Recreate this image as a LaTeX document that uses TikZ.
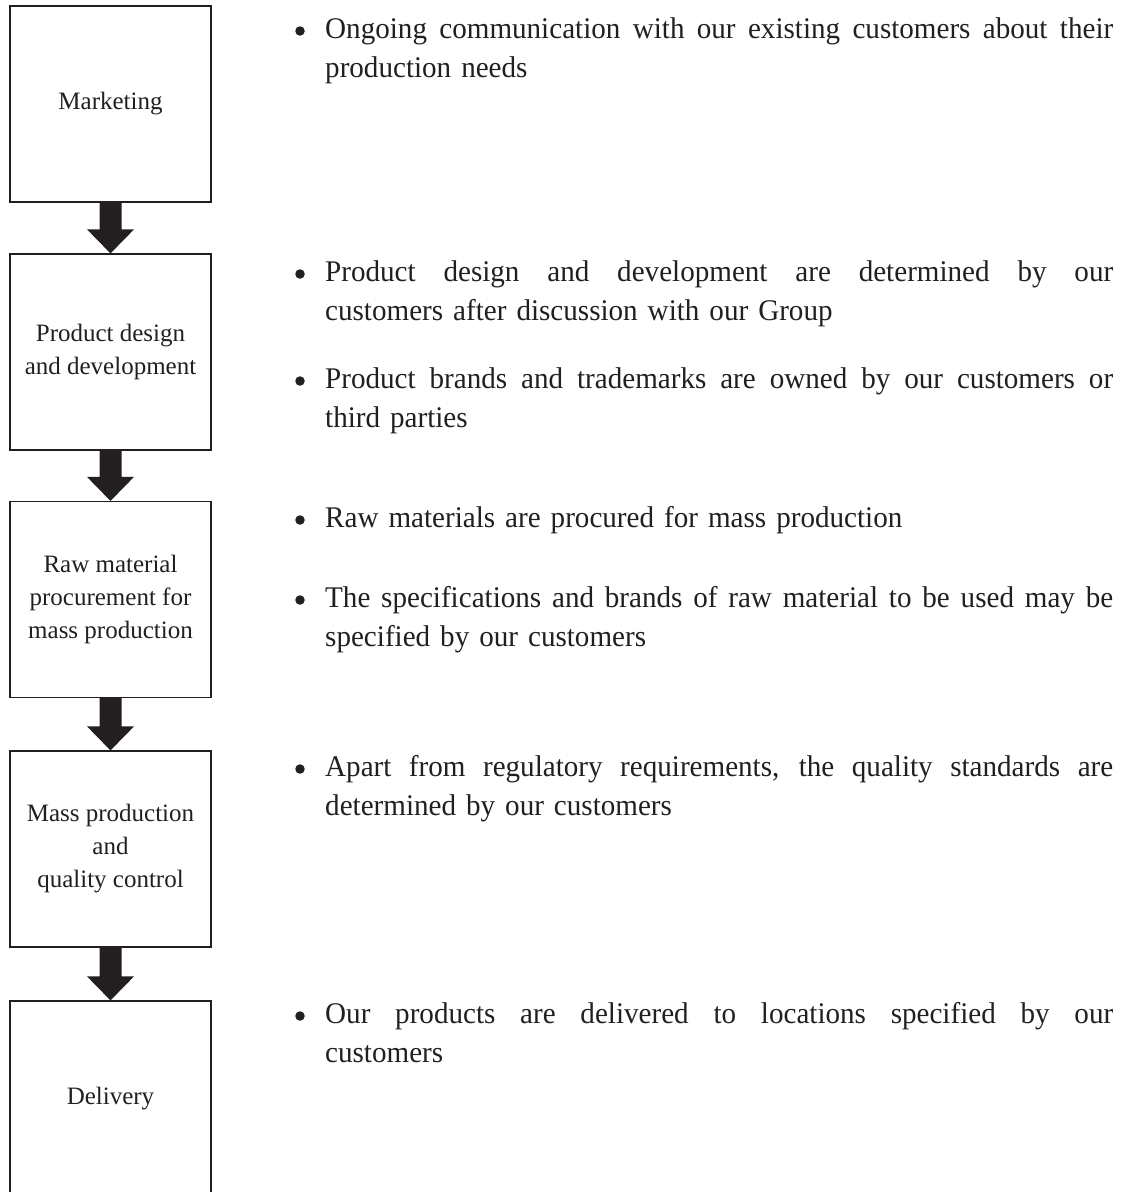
\documentclass[tikz,border=0pt]{standalone}
\usepackage{fontspec}
\setmainfont{Liberation Serif}
\newfontfamily\notefont[FakeStretch=0.97]{Liberation Serif}
\usetikzlibrary{calc}
\definecolor{ink}{HTML}{231F20}

% a justified full-width line inside a note: its spaces stretch evenly
\newcommand\fullline[1]{\makebox[788pt][s]{\spaceskip=.3333em plus 1fil\relax #1}}

\begin{document}
\begin{tikzpicture}[x=1pt,y=-1pt,
  stage/.style={draw=ink, line width=1.2pt, minimum width=201pt, minimum height=196pt,
    inner sep=0pt, align=center, text=ink, font=\fontsize{25}{33}\selectfont},
  note/.style={anchor=base west, inner sep=0pt, text width=788pt, align=left,
    text=ink, font=\notefont\fontsize{30}{39.5}\selectfont},
  dot/.style={circle, fill=ink, inner sep=0pt, minimum size=9.5pt},
  flow/.style={fill=ink}
]
\clip (0,0) rectangle (1126,1192);

% process stages
\node[stage] (s1) at (110.5,104)  {Marketing};
\node[stage] (s2) at (110.5,352)  {Product design\\and development};
\node[stage] (s3) at (110.5,599.5){Raw material\\procurement for\\mass production};
\node[stage] (s4) at (110.5,849)  {Mass production\\and\\quality control};
\node[stage] (s5) at (110.5,1099) {Delivery};

% block arrows between consecutive stages
\foreach \a/\b in {s1/s2, s2/s3, s3/s4, s4/s5}{
  \fill[flow] ($(\a.south)+(-11pt,0)$) -- ($(\b.north)+(-11pt,24pt)$)
    -- ($(\b.north)+(-23.5pt,24pt)$) -- (\b.north) -- ($(\b.north)+(23.5pt,24pt)$)
    -- ($(\b.north)+(11pt,24pt)$) -- ($(\a.south)+(11pt,0)$) -- cycle;
}

% notes beside each stage
\node[dot] (d1) at (300,31) {};
\node[note] (n1) at (325,38) {\fullline{Ongoing communication with our existing customers about their}\\production needs};

\node[dot] (d2) at (300,274) {};
\node[note] (n2) at (325,281) {\fullline{Product design and development are determined by our}\\customers after discussion with our Group};

\node[dot] (d3) at (300,381) {};
\node[note] (n3) at (325,388) {\fullline{Product brands and trademarks are owned by our customers or}\\third parties};

\node[dot] (d4) at (300,520) {};
\node[note] (n4) at (325,527) {Raw materials are procured for mass production};

\node[dot] (d5) at (300,600) {};
\node[note] (n5) at (325,607) {\fullline{The specifications and brands of raw material to be used may be}\\specified by our customers};

\node[dot] (d6) at (300,769) {};
\node[note] (n6) at (325,776) {\fullline{Apart from regulatory requirements, the quality standards are}\\determined by our customers};

\node[dot] (d7) at (300,1016) {};
\node[note] (n7) at (325,1023) {\fullline{Our products are delivered to locations specified by our}\\customers};
\end{tikzpicture}
\end{document}
